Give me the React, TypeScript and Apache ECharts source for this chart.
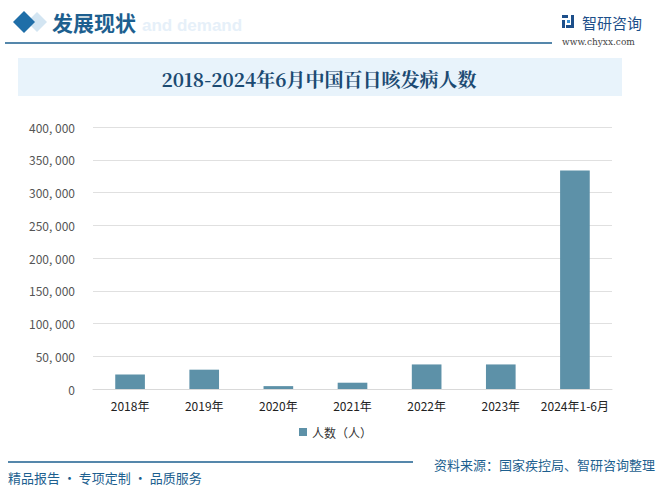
import React, { useEffect, useRef } from "react";
import * as echarts from "echarts";

const categories = ["2018年", "2019年", "2020年", "2021年", "2022年", "2023年", "2024年1-6月"];
const values = [22000, 29500, 4400, 9600, 37500, 37500, 333500];
const seriesName = "人数（人）";
const chartTitle = "2018-2024年6月中国百日咳发病人数";
const sectionTitle = "发展现状";
const sourceText = "资料来源：国家疾控局、智研咨询整理";
const sloganText = "精品报告 · 专项定制 · 品质服务";

export default function App() {
  const ref = useRef<HTMLDivElement>(null);
  useEffect(() => {
    if (!ref.current) return;
    const chart = echarts.init(ref.current, null, { renderer: "svg" });
    const dark = "#1d5f8f";
    chart.setOption({
      animation: false,
      backgroundColor: "#ffffff",
      grid: { left: 93, right: 59, top: 127, bottom: 110 },
      legend: {
        bottom: 56,
        left: "center",
        itemWidth: 8,
        itemHeight: 8,
        icon: "rect",
        itemGap: 4,
        textStyle: { color: "#333", fontSize: 12, fontFamily: "Noto Sans CJK SC" },
        data: [seriesName],
      },
      xAxis: {
        type: "category",
        data: categories,
        axisLine: { show: true, lineStyle: { color: "#d9d9d9" } },
        axisTick: { show: false },
        axisLabel: { color: "#222", fontSize: 12, margin: 10, fontFamily: "Noto Sans CJK SC", interval: 0 },
      },
      yAxis: {
        type: "value",
        min: 0,
        max: 400000,
        interval: 50000,
        axisLine: { show: false },
        axisTick: { show: false },
        splitLine: { lineStyle: { color: "#e0e0e0" } },
        axisLabel: {
          color: "#555",
          fontSize: 12,
          margin: 18,
          fontFamily: "Noto Sans CJK SC",
          formatter: (v: number) => v.toLocaleString("en-US").replace(/,/g, ", "),
        },
      },
      series: [
        {
          name: seriesName,
          type: "bar",
          data: values,
          barWidth: "40%",
          itemStyle: { color: "#5d91a8" },
        },
      ],
      graphic: [
        { type: "polygon", shape: { points: [[37, 12], [47, 22], [37, 32], [27, 22]] }, style: { fill: "#d3e5f2" } },
        { type: "polygon", shape: { points: [[24, 11], [35, 22], [24, 33], [13, 22]] }, style: { fill: "#1f6ea8" } },
        {
          type: "text", x: 142, y: 25,
          style: { text: "and demand", fill: "#e6f0f9", font: "bold 17px Arial", textVerticalAlign: "middle" },
        },
        {
          type: "text", x: 52, y: 22,
          style: { text: sectionTitle, fill: dark, font: "bold 21px 'Noto Sans CJK SC'", textVerticalAlign: "middle" },
        },
        { type: "line", shape: { x1: 5, y1: 43, x2: 552, y2: 43 }, style: { stroke: dark, lineWidth: 1.5 } },
        { type: "rect", shape: { x: 562, y: 15, width: 6, height: 3 }, style: { fill: "#1d4f8a" } },
        { type: "rect", shape: { x: 562, y: 20, width: 3, height: 8 }, style: { fill: "#1d4f8a" } },
        { type: "rect", shape: { x: 567, y: 20, width: 3, height: 3 }, style: { fill: "#3b8fd1" } },
        { type: "rect", shape: { x: 571, y: 15, width: 3, height: 13 }, style: { fill: "#1d4f8a" } },
        { type: "rect", shape: { x: 566, y: 25, width: 5, height: 3 }, style: { fill: "#1d4f8a" } },
        {
          type: "text", x: 582, y: 22,
          style: { text: "智研咨询", fill: "#1d4f8a", font: "15px 'Noto Sans CJK SC'", textVerticalAlign: "middle" },
        },
        {
          type: "text", x: 562, y: 42,
          style: { text: "www.chyxx.com", fill: "#444", font: "9px 'DejaVu Serif'", textVerticalAlign: "middle" },
        },
        { type: "rect", shape: { x: 18, y: 58, width: 604, height: 38 }, style: { fill: "#e8f3fb" } },
        {
          type: "text", x: 319, y: 78,
          style: {
            text: chartTitle, fill: "#1b4a72", font: "bold 19px 'Noto Serif CJK SC', 'Liberation Serif', serif",
            textAlign: "center", textVerticalAlign: "middle",
          },
        },
        { type: "line", shape: { x1: 8, y1: 462, x2: 413, y2: 462 }, style: { stroke: dark, lineWidth: 1.5 } },
        {
          type: "text", x: 8, y: 477,
          style: { text: sloganText, fill: dark, font: "13px 'Noto Sans CJK SC'", textVerticalAlign: "middle" },
        },
        {
          type: "text", x: 655, y: 464,
          style: { text: sourceText, fill: dark, font: "13px 'Noto Sans CJK SC'", textAlign: "right", textVerticalAlign: "middle" },
        },
      ],
    });
    return () => chart.dispose();
  }, []);
  return <div ref={ref} style={{ width: 671, height: 499, position: "absolute", left: 0, top: 0 }} />;
}
